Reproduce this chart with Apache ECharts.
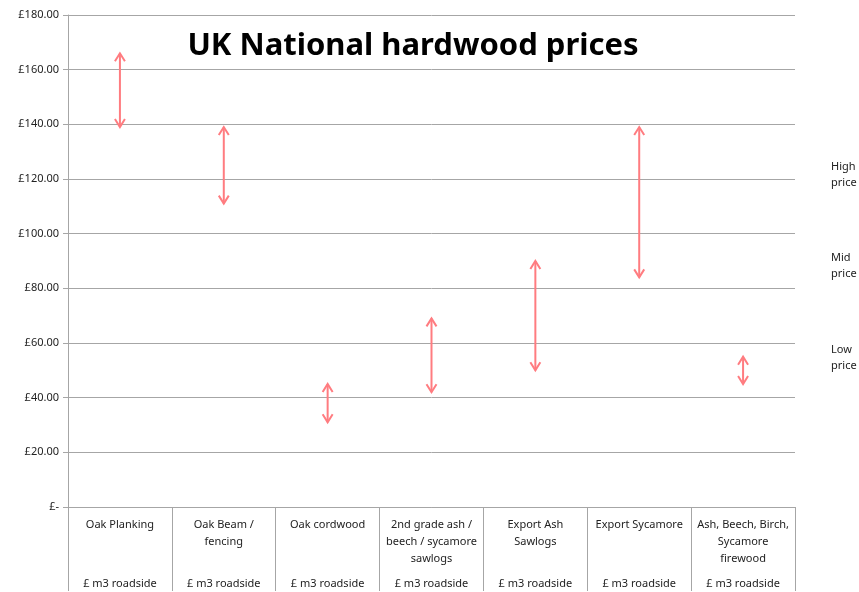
<!DOCTYPE html>
<html>
<head>
<meta charset="utf-8">
<script src="https://cdn.jsdelivr.net/npm/echarts@6/dist/echarts.min.js"></script>
<style>html,body{margin:0;padding:0;background:#fff}#c{width:859px;height:592px}</style>
</head>
<body>
<div id="c"></div>
<script>
const categories = ['Oak Planking', 'Oak Beam /\nfencing', 'Oak cordwood', '2nd grade ash /\nbeech / sycamore\nsawlogs', 'Export Ash\nSawlogs', 'Export Sycamore', 'Ash, Beech, Birch,\nSycamore\nfirewood'];
const unitLabels = ['£ m3 roadside', '£ m3 roadside', '£ m3 roadside', '£ m3 roadside', '£ m3 roadside', '£ m3 roadside', '£ m3 roadside'];
const lowPrices = [139, 111, 31, 42, 50, 84, 45];
const highPrices = [166, 139, 45, 69, 90, 139, 55];
const priceBands = ['High\nprice', 'Mid\nprice', 'Low\nprice'];

const FONT = 'Noto Sans';
const chart = echarts.init(document.getElementById('c'));
const arrowColor = '#ff7c80';
const axisGrey = '#a6a6a6';

chart.setOption({
  animation: false,
  title: {
    text: 'UK National hardwood prices',
    left: 408, top: 26, textAlign: 'center',
    textStyle: {fontFamily: FONT, fontSize: 31, fontWeight: 'bold', color: '#000'}
  },
  grid: {left: 68, right: 64, top: 15, bottom: 84},
  xAxis: [{
    type: 'category', data: categories, position: 'bottom',
    axisLine: {show: true, lineStyle: {color: axisGrey}},
    axisTick: {show: true, inside: false, alignWithLabel: false, interval: 0, length: 84, lineStyle: {color: axisGrey, width: 1}},
    axisLabel: {fontFamily: FONT, fontSize: 11, lineHeight: 17, color: '#222', margin: 9, interval: 0, verticalAlign: 'top'}
  }, {
    type: 'category', data: unitLabels, position: 'bottom',
    axisLine: {show: false}, axisTick: {show: false},
    axisLabel: {fontFamily: FONT, fontSize: 11, lineHeight: 17, color: '#222', margin: 68, interval: 0, verticalAlign: 'top'}
  }],
  yAxis: {
    type: 'value', min: 0, max: 180, interval: 20,
    axisLine: {show: true, lineStyle: {color: axisGrey}},
    axisTick: {show: true, inside: false, length: 5, lineStyle: {color: axisGrey}},
    splitLine: {show: true, lineStyle: {color: axisGrey}},
    axisLabel: {fontFamily: FONT, fontSize: 11, color: '#222', margin: 9,
      formatter: v => v === 0 ? '£-' : '£' + v.toFixed(2)}
  },
  graphic: priceBands.map((t, i) => ({
    type: 'text', left: 831, top: [159, 250, 342][i],
    style: {text: t, fontFamily: FONT, fontSize: 11, lineHeight: 16, fill: '#222'}
  })),
  series: [{
    type: 'custom',
    data: categories.map((c, i) => [i, lowPrices[i], highPrices[i]]),
    encode: {x: 0, y: [1, 2]},
    renderItem: function (params, api) {
      const lo = api.coord([api.value(0), api.value(1)]);
      const hi = api.coord([api.value(0), api.value(2)]);
      const x = lo[0];
      const s = {stroke: arrowColor, lineWidth: 2, fill: null};
      return {type: 'group', children: [
        {type: 'line', shape: {x1: x, y1: lo[1], x2: x, y2: hi[1]}, style: s},
        {type: 'polyline', shape: {points: [[x - 5, hi[1] + 8], [x, hi[1]], [x + 5, hi[1] + 8]]}, style: s},
        {type: 'polyline', shape: {points: [[x - 5, lo[1] - 8], [x, lo[1]], [x + 5, lo[1] - 8]]}, style: s}
      ]};
    }
  }]
});
</script>
</body>
</html>
